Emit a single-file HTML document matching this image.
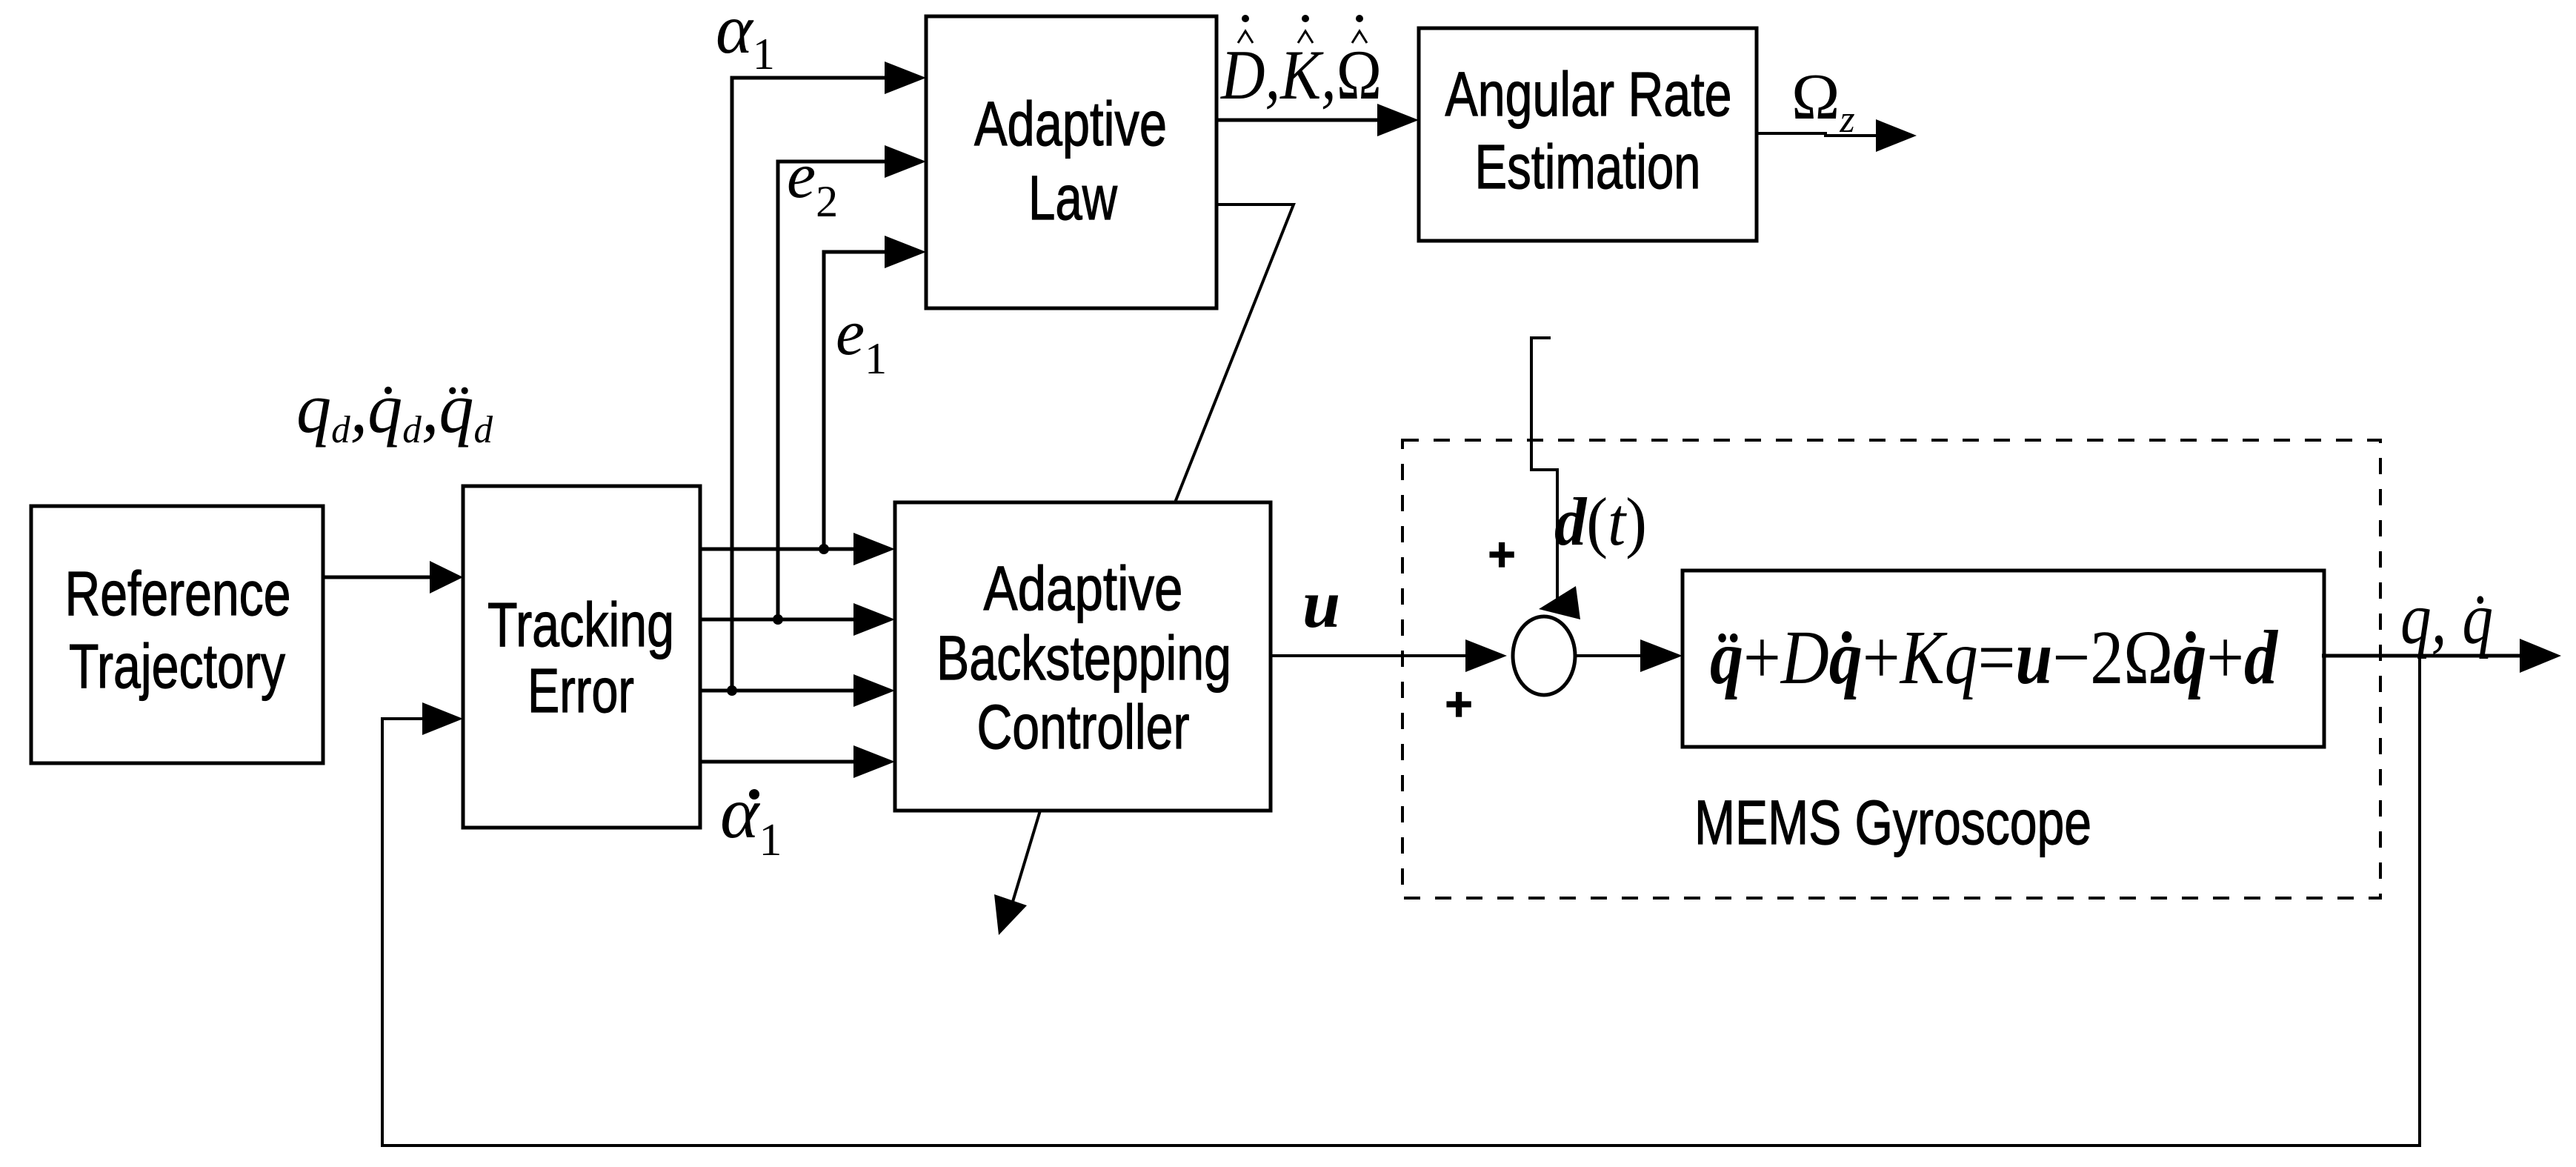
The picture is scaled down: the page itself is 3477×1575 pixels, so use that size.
<!DOCTYPE html>
<html><head><meta charset="utf-8"><style>
html,body{margin:0;padding:0;background:#fff;}
svg{display:block;}
.s{font-family:"Liberation Sans",Arial,sans-serif;font-size:84px;fill:#000;stroke:#000;stroke-width:1.2;}
.m{font-family:"Liberation Serif","Times New Roman",serif;font-style:italic;fill:#000;}
.r{font-family:"Liberation Serif","Times New Roman",serif;fill:#000;}
</style></head><body>
<svg width="3477" height="1575" viewBox="0 0 3477 1575" xmlns="http://www.w3.org/2000/svg">
<g fill="none" stroke="#000" stroke-width="5">
<rect x="42" y="683" width="394" height="347"/>
<rect x="625" y="656" width="320" height="461"/>
<rect x="1208" y="678" width="507" height="416"/>
<rect x="1250" y="22" width="392" height="394"/>
<rect x="1915" y="38" width="456" height="287"/>
<rect x="2271" y="770" width="866" height="238"/>
<rect x="1893" y="594" width="1320" height="618" stroke-width="4" stroke-dasharray="22,20"/>
<ellipse cx="2084" cy="885" rx="42" ry="53"/>
<polyline points="436,779 580,779"/>
<polyline points="3134,885 3405,885"/>
<polyline points="3266,885 3266,1546 516,1546 516,970 580,970" stroke-width="4"/>
<polyline points="945,741 1160,741"/>
<polyline points="945,836 1160,836"/>
<polyline points="945,932 1160,932"/>
<polyline points="945,1028 1160,1028"/>
<polyline points="988,932 988,105 1200,105"/>
<polyline points="1050,836 1050,218 1200,218"/>
<polyline points="1112,741 1112,340 1200,340"/>
<polyline points="1642,162 1870,162"/>
<polyline points="1642,276 1746,276 1586,678" stroke-width="4"/>
<polyline points="1404,1094 1366,1220" stroke-width="4"/>
<polyline points="2371,180 2464,180 2464,183 2540,183" stroke-width="4"/>
<polyline points="1715,885 1990,885" stroke-width="4"/>
<polyline points="2126,885 2220,885" stroke-width="4"/>
<polyline points="2093,456 2067,456 2067,634 2102,634 2102,815" stroke-width="4"/>
</g>
<g fill="#000">
<polygon points="580,757 625,779 580,801"/>
<polygon points="570,948 625,970 570,992"/>
<polygon points="1152,719 1208,741 1152,763"/>
<polygon points="1152,814 1208,836 1152,858"/>
<polygon points="1152,910 1208,932 1152,954"/>
<polygon points="1152,1006 1208,1028 1152,1050"/>
<polygon points="1194,83 1250,105 1194,127"/>
<polygon points="1194,196 1250,218 1194,240"/>
<polygon points="1194,318 1250,340 1194,362"/>
<polygon points="1859,140 1915,162 1859,184"/>
<polygon points="2532,161 2587,183 2532,205"/>
<polygon points="1978,863 2034,885 1978,907"/>
<polygon points="2214,863 2271,885 2214,907"/>
<polygon points="3401,862 3457,885 3401,908"/>
<polygon points="1348,1262 1342,1207 1386,1222"/>
<polygon points="2127,791 2133,836 2077,822"/>
<circle cx="1112" cy="741" r="7"/>
<circle cx="1050" cy="836" r="7"/>
<circle cx="988" cy="932" r="7"/>
<circle cx="1681" cy="25" r="5"/>
<circle cx="1762" cy="25" r="5"/>
<circle cx="1835" cy="25" r="5"/>
<circle cx="1018" cy="1072" r="7"/>
</g>
<g fill="none" stroke="#000" stroke-width="3">
<polyline points="1671,58 1681,42 1691,58"/>
<polyline points="1752,58 1762,42 1772,58"/>
<polyline points="1825,58 1835,42 1845,58"/>
</g>
<g class="s" text-anchor="middle">
<text x="240" y="830" textLength="305" lengthAdjust="spacingAndGlyphs">Reference</text>
<text x="239" y="928" textLength="292" lengthAdjust="spacingAndGlyphs">Trajectory</text>
<text x="784" y="872" textLength="252" lengthAdjust="spacingAndGlyphs">Tracking</text>
<text x="784" y="961" textLength="144" lengthAdjust="spacingAndGlyphs">Error</text>
<text x="1462" y="823" textLength="269" lengthAdjust="spacingAndGlyphs">Adaptive</text>
<text x="1463" y="917" textLength="398" lengthAdjust="spacingAndGlyphs">Backstepping</text>
<text x="1462" y="1010" textLength="287" lengthAdjust="spacingAndGlyphs">Controller</text>
<text x="1445" y="196" textLength="260" lengthAdjust="spacingAndGlyphs">Adaptive</text>
<text x="1448" y="296" textLength="120" lengthAdjust="spacingAndGlyphs">Law</text>
<text x="2144" y="156" textLength="387" lengthAdjust="spacingAndGlyphs">Angular Rate</text>
<text x="2143" y="254" textLength="305" lengthAdjust="spacingAndGlyphs">Estimation</text>
<text x="2555" y="1139" textLength="536" lengthAdjust="spacingAndGlyphs">MEMS Gyroscope</text>
</g>
<g class="s" style="font-weight:bold;font-size:64px" text-anchor="middle">
<text x="2027" y="770">+</text>
<text x="1969" y="972">+</text>
</g>
<text class="m" x="966" y="71" font-size="95">α<tspan class="r" font-style="normal" font-size="60" dy="22">1</tspan></text>
<text class="m" x="1062" y="266" font-size="88">e<tspan class="r" font-style="normal" font-size="60" dy="26">2</tspan></text>
<text class="m" x="1128" y="478" font-size="88">e<tspan class="r" font-style="normal" font-size="60" dy="26">1</tspan></text>
<text class="m" x="972" y="1130" font-size="100">α<tspan class="r" font-style="normal" font-size="62" dy="24">1</tspan></text>
<text class="m" x="400" y="583" font-size="96" textLength="265" lengthAdjust="spacingAndGlyphs">q<tspan font-size="52" dy="14">d</tspan><tspan dy="-14">,q̇</tspan><tspan font-size="52" dy="14">d</tspan><tspan dy="-14">,q̈</tspan><tspan font-size="52" dy="14">d</tspan></text>
<text class="m" x="1648" y="133" font-size="95" textLength="217" lengthAdjust="spacingAndGlyphs">D,K,<tspan font-style="normal">Ω</tspan></text>
<text class="r" x="2418" y="160" font-size="88">Ω<tspan class="m" font-size="52" dy="18">z</tspan></text>
<text class="m" x="1758" y="846" font-size="92" font-weight="bold">u</text>
<text class="m" x="2098" y="735" font-size="92" textLength="125" lengthAdjust="spacingAndGlyphs"><tspan font-weight="bold">d</tspan><tspan font-style="normal">(</tspan>t<tspan font-style="normal">)</tspan></text>
<text class="m" x="3240" y="868" font-size="100" textLength="125" lengthAdjust="spacingAndGlyphs">q, q̇</text>
<text class="m" x="2308" y="922" font-size="104" textLength="766" lengthAdjust="spacingAndGlyphs"><tspan font-weight="bold">q̈</tspan><tspan font-style="normal">+</tspan>D<tspan font-weight="bold">q̇</tspan><tspan font-style="normal">+</tspan>Kq<tspan font-style="normal">=</tspan><tspan font-weight="bold">u</tspan><tspan font-style="normal">−2Ω</tspan><tspan font-weight="bold">q̇</tspan><tspan font-style="normal">+</tspan><tspan font-weight="bold">d</tspan></text>
</svg>
</body></html>
